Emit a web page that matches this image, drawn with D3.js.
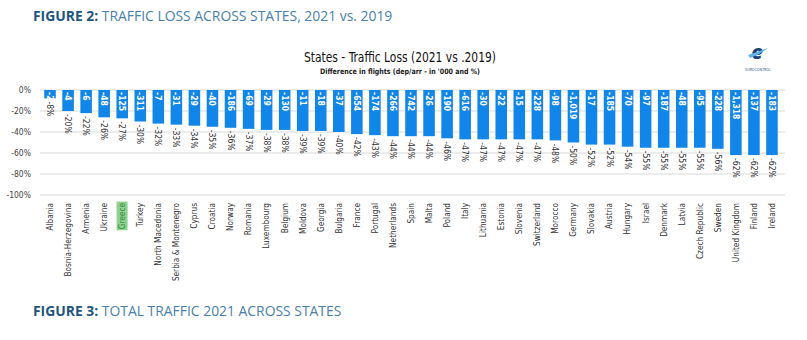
<!DOCTYPE html>
<html>
<head>
<meta charset="utf-8">
<script src="https://cdn.jsdelivr.net/npm/d3@7"></script>
<style>
  html, body { margin: 0; padding: 0; background: #fff; }
  svg { display: block; }
</style>
</head>
<body>
<svg id="chart" width="807" height="340"></svg>
<script>
const states = ["Albania","Bosnia-Herzegovina","Armenia","Ukraine","Greece","Turkey","North Macedonia","Serbia & Montenegro","Cyprus","Croatia","Norway","Romania","Luxembourg","Belgium","Moldova","Georgia","Bulgaria","France","Portugal","Netherlands","Spain","Malta","Poland","Italy","Lithuania","Estonia","Slovenia","Switzerland","Morocco","Germany","Slovakia","Austria","Hungary","Israel","Denmark","Latvia","Czech Republic","Sweden","United Kingdom","Finland","Ireland"];
const lossPct = [-8,-20,-22,-26,-27,-30,-32,-33,-34,-35,-36,-37,-38,-38,-39,-39,-40,-42,-43,-44,-44,-44,-46,-47,-47,-47,-47,-47,-48,-50,-52,-52,-54,-55,-55,-55,-55,-56,-62,-62,-62];
const lossFlights = ["-2","-4","-6","-48","-125","-311","-7","-31","-29","-40","-186","-69","-29","-130","-11","-18","-37","-654","-174","-266","-742","-26","-190","-616","-30","-22","-15","-228","-98","-1,019","-17","-185","-70","-97","-187","-48","-95","-228","-1,318","-137","-183"];
const yTicks = [0,-20,-40,-60,-80,-100];
const highlight = "Greece";

const svg = d3.select("#chart");
const narrow = "'Liberation Sans Narrow','DejaVu Sans Condensed','Roboto Condensed',sans-serif";
const sans = "'Open Sans','Noto Sans','DejaVu Sans',sans-serif";

// Page heading
const h = svg.append("text").attr("x", 33).attr("y", 21)
  .attr("font-family", sans).attr("font-size", 13.9);
h.append("tspan").attr("font-weight", 700).attr("fill", "#1d5580").text("FIGURE 2: ");
h.append("tspan").attr("fill", "#4a80ad").attr("font-weight", 400).text("TRAFFIC LOSS ACROSS STATES, 2021 vs. 2019");

const h3 = svg.append("text").attr("x", 33).attr("y", 316)
  .attr("font-family", sans).attr("font-size", 13.9);
h3.append("tspan").attr("font-weight", 700).attr("fill", "#1d5580").text("FIGURE 3: ");
h3.append("tspan").attr("fill", "#4a80ad").attr("font-weight", 400).text("TOTAL TRAFFIC 2021 ACROSS STATES");

// Chart titles
svg.append("text").attr("x", 400).attr("y", 62).attr("text-anchor", "middle")
  .attr("font-family", narrow).attr("font-size", 14).attr("fill", "#111")
  .attr("textLength", 192).attr("lengthAdjust", "spacingAndGlyphs")
  .text("States - Traffic Loss (2021 vs .2019)");
svg.append("text").attr("x", 400).attr("y", 74).attr("text-anchor", "middle")
  .attr("font-family", narrow).attr("font-size", 7.5).attr("font-weight", 700).attr("fill", "#222")
  .attr("textLength", 160).attr("lengthAdjust", "spacingAndGlyphs")
  .text("Difference in flights (dep/arr - in '000 and %)");

// Logo (approximation)
const logo = svg.append("g").attr("transform", "translate(757,56)");
logo.append("text").attr("x", 0).attr("y", 3).attr("text-anchor", "middle")
  .attr("font-family", sans).attr("font-size", 20).attr("font-weight", 800)
  .attr("font-style", "italic").attr("fill", "#1b3f73").text("e");
logo.append("path").attr("d", "M-9,-1 Q0,-4 11,-8 Q2,-1 -7,2 Z").attr("fill", "#5fb4e6");
logo.append("text").attr("x", 1).attr("y", 15).attr("text-anchor", "middle")
  .attr("font-family", sans).attr("font-size", 3.5).attr("fill", "#1b3f73").text("EUROCONTROL");

// Scales
const x = d3.scaleBand().domain(states).range([41, 781]).paddingInner(0.36).paddingOuter(0.18);
const y = d3.scaleLinear().domain([-100, 0]).range([195, 90]);

// Gridlines
svg.append("g").selectAll("line").data(yTicks).join("line")
  .attr("x1", 40).attr("x2", 785)
  .attr("y1", d => y(d)).attr("y2", d => y(d))
  .attr("stroke", "#d9d9d9").attr("stroke-width", 1);

// Y axis labels
const yAxis = d3.axisLeft(y).tickValues(yTicks).tickFormat(d => d + "%").tickSize(0).tickPadding(0);
const ya = svg.append("g").attr("transform", "translate(31,0)").call(yAxis);
ya.select(".domain").remove();
ya.selectAll("text").attr("font-family", narrow).attr("font-size", 8.5).attr("fill", "#444");

// Bars
const data = states.map((s, i) => ({ s, p: lossPct[i], f: lossFlights[i] }));
svg.append("g").selectAll("rect").data(data).join("rect")
  .attr("x", d => x(d.s)).attr("width", x.bandwidth())
  .attr("y", y(0)).attr("height", d => y(d.p) - y(0))
  .attr("fill", "#1185e8");

// Flight labels inside bars (rotated, reading downward)
svg.append("g").selectAll("text").data(data).join("text")
  .attr("transform", d => `translate(${x(d.s) + x.bandwidth() / 2 - 3},${y(0) + 2}) rotate(90)`)
  .attr("font-family", narrow).attr("font-size", 8.5).attr("font-weight", 700)
  .attr("fill", "#fff")
  .text(d => d.f);

// Percentage labels below bars
svg.append("g").selectAll("text").data(data).join("text")
  .attr("transform", d => `translate(${x(d.s) + x.bandwidth() / 2 - 3},${y(d.p) + 3}) rotate(90)`)
  .attr("font-family", narrow).attr("font-size", 8.5).attr("fill", "#333")
  .text(d => d.p + "%");

// Category labels
const xAxis = d3.axisBottom(x).tickSize(0).tickPadding(0);
const xa = svg.append("g").attr("transform", "translate(0,203)").call(xAxis);
xa.select(".domain").remove();
xa.selectAll(".tick text")
  .attr("transform", "rotate(-90)")
  .attr("text-anchor", "end").attr("x", 0).attr("y", 0).attr("dy", "0.35em")
  .attr("font-family", narrow).attr("font-size", 8.2).attr("fill", "#333");
xa.selectAll(".tick").filter(d => d === highlight).each(function () {
  const g = d3.select(this);
  const t = g.select("text");
  const bb = t.node().getBBox();
  g.insert("rect", "text")
    .attr("transform", "rotate(-90)")
    .attr("x", bb.x - 1).attr("y", bb.y - 0.5)
    .attr("width", bb.width + 2).attr("height", bb.height + 1)
    .attr("fill", "#8fd18f");
  t.attr("fill", "#2f8a3a");
});
</script>
</body>
</html>
